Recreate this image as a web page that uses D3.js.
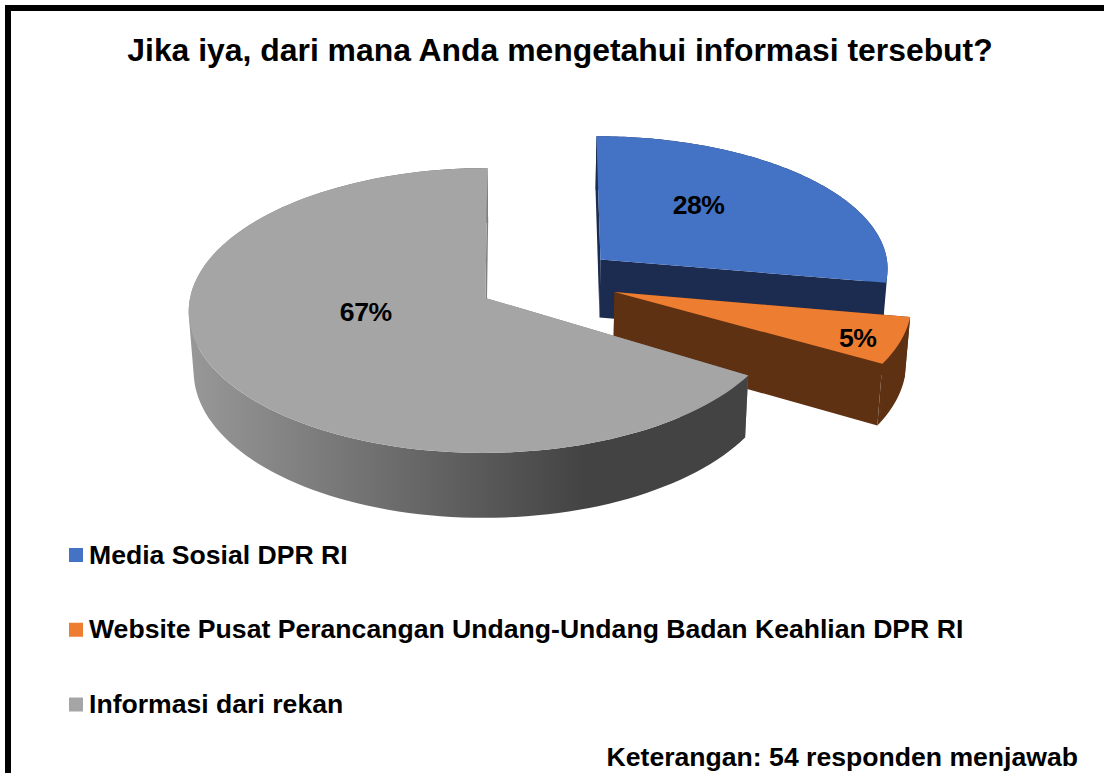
<!DOCTYPE html>
<html>
<head>
<meta charset="utf-8">
<script src="https://cdn.jsdelivr.net/npm/d3@7"></script>
<style>
  html, body { margin: 0; padding: 0; background: #fff; }
  svg { display: block; }
  text { font-family: "Liberation Sans", Arial, sans-serif; font-weight: bold; fill: #000; }
</style>
</head>
<body>
<div id="chart"></div>
<script>
const chartTitle = 'Jika iya, dari mana Anda mengetahui informasi tersebut?';
const note = 'Keterangan: 54 responden menjawab';
const categories = [
  'Media Sosial DPR RI',
  'Website Pusat Perancangan Undang-Undang Badan Keahlian DPR RI',
  'Informasi dari rekan',
];
const values = [28, 5, 67];

const topColors = ['#4472c4', '#ed7d31', '#a5a5a5'];
const sideColors = ['#1b2c50', '#5f3113', 'url(#greySide)'];

const width = 1104;
const height = 773;

// disc plane -> screen, with the vanishing point of the chart's 3d look
const vanishX = 523;
const vanishY = -2120;
const scaleX = 297;
const scaleY = 2418;
const persp = 0.0585;

const centre = { x: 0.08, y: 0.123 };
const explode = 0.24;

// per slice fitting of the rim to the picture
const radiusX = [0.98, 1, 0.995];
const radiusY = [0.95, 1, 1];
const rimDown = [0, 0, 0.03];
const apexShift = [0, 0.003, 0];
const angleNudge = [[0, -0.012], [-0.012, 0.015], [0.022, 0]];

// label offset from the slice apex, in disc units
const labelOffset = [[0.35, 0.41], [0.8, -0.315], [-0.4, -0.096]];

const project = (X, Y) => {
  const w = 1 + persp * Y;
  return [vanishX + (scaleX * X) / w, vanishY + scaleY / w];
};

// extruded bottom edge
const drop = ([x, y]) => [
  x + (536 - x) * 0.0144,
  y + 58 + (y - 260) * 0.036,
];

const svg = d3
  .select('#chart')
  .append('svg')
  .attr('width', width)
  .attr('height', height);

const grad = svg
  .append('defs')
  .append('linearGradient')
  .attr('id', 'greySide')
  .attr('gradientUnits', 'userSpaceOnUse')
  .attr('x1', 194)
  .attr('x2', 585)
  .attr('y1', 0)
  .attr('y2', 0);
grad.append('stop').attr('offset', 0).attr('stop-color', '#979797');
grad.append('stop').attr('offset', 1).attr('stop-color', '#434343');

// frame, only top and left are in the picture
svg.append('rect').attr('x', 5).attr('y', 5).attr('width', 6).attr('height', height).attr('fill', '#000');
svg.append('rect').attr('x', 5).attr('y', 5).attr('width', width).attr('height', 6).attr('fill', '#000');

svg
  .append('text')
  .attr('x', 560)
  .attr('y', 61)
  .attr('text-anchor', 'middle')
  .style('font-size', '31.9px')
  .text(chartTitle);

const pie = d3.pie().sort(null).value((d) => d);
const slices = pie(values);
const line = d3.line();

slices.forEach((s, i) => {
  const mid = (s.startAngle + s.endAngle) / 2;
  const ox = centre.x + explode * Math.sin(mid) + apexShift[i];
  const oy = centre.y + explode * Math.cos(mid);
  const a0 = s.startAngle + angleNudge[i][0];
  const a1 = s.endAngle + angleNudge[i][1];

  const rimAt = (a) =>
    project(
      ox + radiusX[i] * Math.sin(a),
      oy - rimDown[i] + radiusY[i] * Math.cos(a)
    );
  const apex = project(ox, oy);
  const steps = d3.range(0, 121).map((k) => a0 + ((a1 - a0) * k) / 120);
  const rim = steps.map(rimAt);

  const g = svg.append('g').attr('class', 'slice');

  const cutFace = (p) => {
    g.append('path')
      .attr('d', line([apex, p, drop(p), drop(apex)]) + 'Z')
      .attr('fill', i === 2 ? '#7f7f7f' : sideColors[i]);
  };

  cutFace(rim[0]);

  // outer wall as quads, all wound the same way so the union fills
  const wall = d3.pairs(rim).map(([p, q]) => {
    const quad = [p, q, drop(q), drop(p)];
    return line(d3.polygonArea(quad) < 0 ? quad.reverse() : quad) + 'Z';
  });
  g.append('path').attr('d', wall.join('')).attr('fill', sideColors[i]);

  cutFace(rim[rim.length - 1]);

  g.append('path')
    .attr('d', line([apex].concat(rim)) + 'Z')
    .attr('fill', topColors[i]);

  const lp = project(ox + labelOffset[i][0], oy + labelOffset[i][1]);
  g.append('text')
    .attr('x', lp[0])
    .attr('y', lp[1] + 9.5)
    .attr('text-anchor', 'middle')
    .style('font-size', '26.6px')
    .style('letter-spacing', '-0.5px')
    .text(values[i] + '%');
});

const legendY = d3.scalePoint().domain(categories).range([555, 704.5]);

const legend = svg
  .selectAll('.legend')
  .data(categories)
  .enter()
  .append('g')
  .attr('class', 'legend');

legend
  .append('rect')
  .attr('x', 69)
  .attr('y', (d) => legendY(d) - 7)
  .attr('width', 14)
  .attr('height', 14)
  .attr('fill', (d, i) => topColors[i]);

legend
  .append('text')
  .attr('x', 89)
  .attr('y', (d) => legendY(d) + 8.5)
  .style('font-size', '26.6px')
  .text((d) => d);

svg
  .append('text')
  .attr('x', 1078)
  .attr('y', 766)
  .attr('text-anchor', 'end')
  .style('font-size', '26.6px')
  .text(note);
</script>
</body>
</html>
